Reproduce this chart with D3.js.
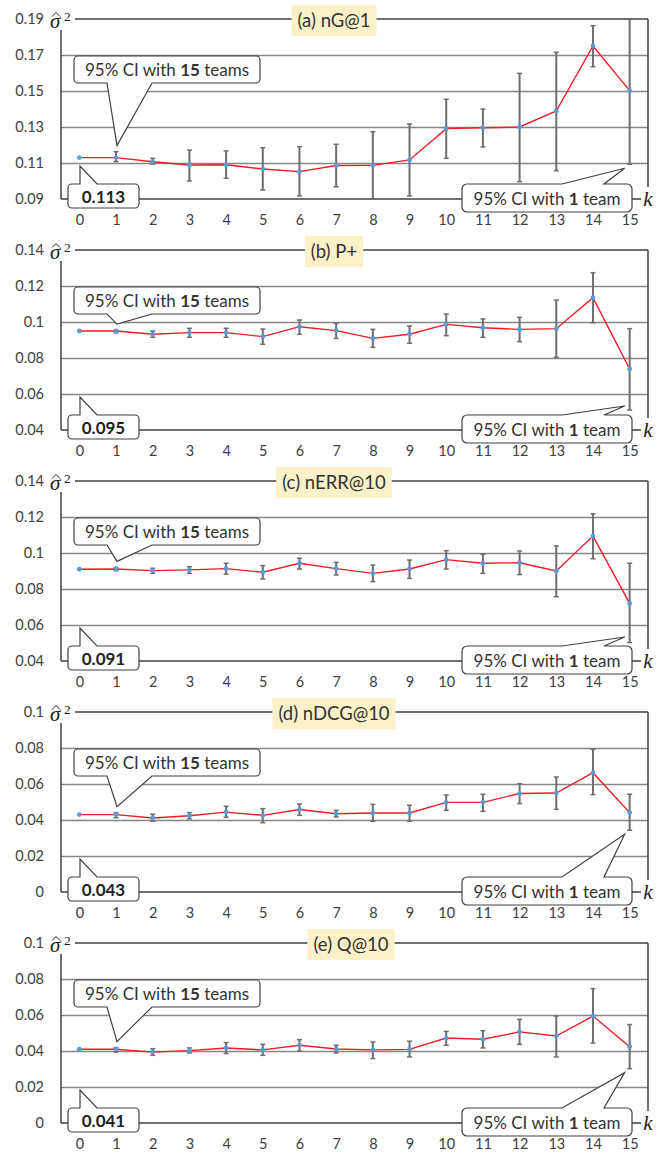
<!DOCTYPE html>
<html>
<head>
<meta charset="utf-8">
<script src="https://cdn.jsdelivr.net/npm/d3@7"></script>
<style>
  body { margin: 0; background: #fff; }
  svg { display: block; }
  .tick text { font-family: Lato, "Open Sans", sans-serif; fill: #404040; }
</style>
</head>
<body>
<div id="chart"></div>
<script>
// k = number of teams removed
const ks = [0, 1, 2, 3, 4, 5, 6, 7, 8, 9, 10, 11, 12, 13, 14, 15];

const panelTitles = ["(a) nG@1", "(b) P+", "(c) nERR@10", "(d) nDCG@10", "(e) Q@10"];

const yDomains = [[0.09, 0.19], [0.04, 0.14], [0.04, 0.14], [0, 0.1], [0, 0.1]];
const yTickValues = [
  [0.09, 0.11, 0.13, 0.15, 0.17, 0.19],
  [0.04, 0.06, 0.08, 0.1, 0.12, 0.14],
  [0.04, 0.06, 0.08, 0.1, 0.12, 0.14],
  [0, 0.02, 0.04, 0.06, 0.08, 0.1],
  [0, 0.02, 0.04, 0.06, 0.08, 0.1]
];
const yTickLabels = [
  ["0.09", "0.11", "0.13", "0.15", "0.17", "0.19"],
  ["0.04", "0.06", "0.08", "0.1", "0.12", "0.14"],
  ["0.04", "0.06", "0.08", "0.1", "0.12", "0.14"],
  ["0", "0.02", "0.04", "0.06", "0.08", "0.1"],
  ["0", "0.02", "0.04", "0.06", "0.08", "0.1"]
];

// variance estimates and 95% CI bounds
const nG1Mean = [0.113, 0.113, 0.1107, 0.1089, 0.109, 0.1067, 0.1052, 0.1086, 0.1087, 0.1117, 0.1291, 0.1296, 0.130, 0.1389, 0.175, 0.1502];
const nG1Lo = [null, 0.1108, 0.1094, 0.100, 0.1015, 0.095, 0.0917, 0.0968, 0.090, 0.0917, 0.1126, 0.1189, 0.0996, 0.1057, 0.1635, 0.1093];
const nG1Hi = [null, 0.1163, 0.1126, 0.1172, 0.1167, 0.1185, 0.1191, 0.1204, 0.1274, 0.1317, 0.1454, 0.140, 0.1598, 0.1715, 0.1863, 0.190];

const pPlusMean = [0.095, 0.095, 0.0932, 0.0941, 0.0941, 0.0919, 0.0974, 0.0952, 0.0909, 0.0932, 0.0987, 0.0968, 0.0959, 0.0963, 0.1135, 0.0739];
const pPlusLo = [null, 0.0940, 0.0915, 0.0915, 0.0915, 0.0876, 0.0932, 0.0909, 0.0859, 0.0882, 0.0924, 0.0915, 0.0891, 0.0804, 0.0996, 0.0511];
const pPlusHi = [null, 0.0955, 0.095, 0.0965, 0.0965, 0.0961, 0.1011, 0.0993, 0.0959, 0.0978, 0.1044, 0.1017, 0.1026, 0.1122, 0.1274, 0.0963];

const nErrMean = [0.091, 0.0911, 0.0902, 0.0906, 0.0913, 0.0893, 0.0943, 0.0913, 0.0887, 0.0911, 0.0963, 0.0943, 0.0946, 0.090, 0.1094, 0.072];
const nErrLo = [null, 0.0902, 0.0887, 0.0887, 0.0883, 0.0856, 0.0911, 0.0878, 0.0841, 0.0859, 0.0911, 0.0887, 0.088, 0.0757, 0.0968, 0.0502];
const nErrHi = [null, 0.0920, 0.0915, 0.0924, 0.0943, 0.093, 0.0971, 0.0948, 0.0933, 0.0961, 0.1013, 0.0993, 0.1011, 0.1039, 0.1218, 0.0943];

const nDcgMean = [0.043, 0.043, 0.0411, 0.0424, 0.0444, 0.0426, 0.0458, 0.0435, 0.0439, 0.0439, 0.0498, 0.0498, 0.0547, 0.055, 0.0663, 0.0441];
const nDcgLo = [null, 0.0413, 0.0393, 0.0406, 0.0415, 0.0385, 0.0426, 0.0417, 0.0393, 0.0393, 0.0454, 0.0448, 0.0491, 0.0459, 0.0541, 0.0343];
const nDcgHi = [null, 0.0441, 0.0432, 0.0441, 0.0476, 0.0463, 0.0489, 0.0454, 0.0487, 0.0482, 0.0539, 0.0543, 0.0602, 0.0639, 0.0793, 0.0543];

const q10Mean = [0.041, 0.041, 0.0394, 0.0402, 0.0417, 0.0406, 0.0432, 0.0411, 0.0406, 0.0409, 0.0472, 0.0465, 0.0506, 0.0483, 0.0594, 0.0424];
const q10Lo = [null, 0.0394, 0.0376, 0.0389, 0.0386, 0.0376, 0.04, 0.0389, 0.0358, 0.0367, 0.0432, 0.0417, 0.0437, 0.0367, 0.0444, 0.0302];
const q10Hi = [null, 0.0419, 0.0413, 0.0417, 0.0447, 0.0437, 0.0463, 0.0432, 0.045, 0.0454, 0.0509, 0.0513, 0.0576, 0.0594, 0.0747, 0.0547];

const means = [nG1Mean, pPlusMean, nErrMean, nDcgMean, q10Mean];
const lows = [nG1Lo, pPlusLo, nErrLo, nDcgLo, q10Lo];
const highs = [nG1Hi, pPlusHi, nErrHi, nDcgHi, q10Hi];

// layout
const titleCenters = [334, 334, 334, 334, 351];
const FONT = "Lato, 'Open Sans', sans-serif";
const SERIF = "'Liberation Serif', 'DejaVu Serif', serif";

// rounded box with a speech pointer on top or bottom edge
function calloutPath(x, y, w, h, r, p) {
  let s = `M${x + r},${y}`;
  if (p.side === "top") s += `L${p.a},${y}L${p.tx},${p.ty}L${p.b},${y}`;
  s += `L${x + w - r},${y}A${r},${r} 0 0 1 ${x + w},${y + r}`;
  s += `L${x + w},${y + h - r}A${r},${r} 0 0 1 ${x + w - r},${y + h}`;
  if (p.side === "bottom") s += `L${p.b},${y + h}L${p.tx},${p.ty}L${p.a},${y + h}`;
  s += `L${x + r},${y + h}A${r},${r} 0 0 1 ${x},${y + h - r}`;
  s += `L${x},${y + r}A${r},${r} 0 0 1 ${x + r},${y}Z`;
  return s;
}

class PanelVis {
  constructor(svg, index, top) {
    this.svg = svg;
    this.index = index;
    this.top = top;
    this.initVis();
  }

  initVis() {
    let vis = this;
    let i = vis.index;
    vis.left = 61;
    vis.right = 648;
    vis.height = 180;
    vis.bottom = vis.top + vis.height;

    vis.g = vis.svg.append("g").attr("class", "panel");

    vis.x = d3.scalePoint().domain(ks).range([vis.left, vis.right]).padding(0.5);
    vis.y = d3.scaleLinear().domain(yDomains[i]).range([vis.bottom, vis.top]);

    vis.data = ks.map((k, j) => ({ k: k, m: means[i][j], lo: lows[i][j], hi: highs[i][j] }));

    // gridlines + y labels
    let yAxis = d3.axisLeft(vis.y)
      .tickValues(yTickValues[i])
      .tickFormat((d, j) => yTickLabels[i][j])
      .tickSize(-(vis.right - vis.left))
      .tickPadding(17);
    let ya = vis.g.append("g")
      .attr("transform", `translate(${vis.left},0)`)
      .call(yAxis);
    ya.select(".domain").remove();
    ya.selectAll(".tick line").attr("stroke", "#868686").attr("stroke-width", 1.4);
    ya.selectAll(".tick text").attr("font-size", 14.5).attr("font-family", FONT);
    ya.selectAll(".tick").filter((d) => d === yDomains[i][0] || d === yDomains[i][1])
      .select("line").remove();

    // x labels
    let xAxis = d3.axisBottom(vis.x).tickSize(0).tickPadding(16);
    let xa = vis.g.append("g")
      .attr("transform", `translate(0,${vis.bottom})`)
      .call(xAxis);
    xa.select(".domain").remove();
    xa.selectAll(".tick text").attr("font-size", 14.5).attr("font-family", FONT);

    // frame
    let frame = vis.g.append("g").attr("stroke", "#404040").attr("stroke-width", 1.5);
    frame.append("line").attr("x1", 75).attr("x2", vis.right).attr("y1", vis.top).attr("y2", vis.top);
    frame.append("line").attr("x1", vis.left).attr("x2", 641).attr("y1", vis.bottom).attr("y2", vis.bottom);
    frame.append("line").attr("x1", vis.left).attr("x2", vis.left).attr("y1", vis.top + 11).attr("y2", vis.bottom);
    frame.append("line").attr("x1", vis.right).attr("x2", vis.right).attr("y1", vis.top).attr("y2", vis.bottom - 12);

    // error bars
    let bars = vis.g.append("g").selectAll("g.err")
      .data(vis.data.filter((d) => d.lo !== null))
      .enter().append("g").attr("class", "err")
      .attr("stroke", "#6e6e6e");
    bars.append("line")
      .attr("x1", (d) => vis.x(d.k)).attr("x2", (d) => vis.x(d.k))
      .attr("y1", (d) => vis.y(d.lo)).attr("y2", (d) => vis.y(d.hi))
      .attr("stroke-width", 2);
    bars.append("line")
      .attr("x1", (d) => vis.x(d.k) - 2.5).attr("x2", (d) => vis.x(d.k) + 2.5)
      .attr("y1", (d) => vis.y(d.lo)).attr("y2", (d) => vis.y(d.lo))
      .attr("stroke-width", 1.5);
    bars.append("line")
      .attr("x1", (d) => vis.x(d.k) - 2.5).attr("x2", (d) => vis.x(d.k) + 2.5)
      .attr("y1", (d) => vis.y(d.hi)).attr("y2", (d) => vis.y(d.hi))
      .attr("stroke-width", 1.5);

    // mean line
    let line = d3.line().x((d) => vis.x(d.k)).y((d) => vis.y(d.m));
    vis.g.append("path")
      .datum(vis.data)
      .attr("d", line)
      .attr("fill", "none")
      .attr("stroke", "#ee1c25")
      .attr("stroke-width", 1.4);

    vis.g.append("g").selectAll("circle")
      .data(vis.data)
      .enter().append("circle")
      .attr("cx", (d) => vis.x(d.k))
      .attr("cy", (d) => vis.y(d.m))
      .attr("r", 2.4)
      .attr("fill", "#5b9bd5");

    vis.drawCallouts();
    vis.drawLabels();
  }

  drawCallouts() {
    let vis = this;
    let i = vis.index;
    let co = vis.g.append("g").attr("class", "callouts");

    // 15 teams
    let tip1 = vis.y(lows[i][1] === null ? means[i][1] : highs[i][1]) - 6;
    co.append("path")
      .attr("d", calloutPath(74, vis.top + 37, 186, 27, 4,
        { side: "bottom", a: 107, b: 152, tx: 117, ty: tip1 }))
      .attr("fill", "#fff").attr("stroke", "#404040").attr("stroke-width", 1.2);
    let t1 = co.append("text")
      .attr("x", 167).attr("y", vis.top + 56.5)
      .attr("text-anchor", "middle")
      .attr("font-family", FONT).attr("font-size", 17).attr("fill", "#333");
    t1.append("tspan").text("95% CI with ");
    t1.append("tspan").attr("font-weight", "bold").text("15");
    t1.append("tspan").text(" teams");

    // 1 team
    let tip15 = Math.min(vis.y(lows[i][15]) + 4, vis.bottom - 24);
    co.append("path")
      .attr("d", calloutPath(462, vis.bottom - 15, 170, 28, 5,
        { side: "top", a: 562, b: 604, tx: vis.x(15) - 5, ty: tip15 }))
      .attr("fill", "#fff").attr("stroke", "#404040").attr("stroke-width", 1.2);
    let t2 = co.append("text")
      .attr("x", 547).attr("y", vis.bottom + 5.5)
      .attr("text-anchor", "middle")
      .attr("font-family", FONT).attr("font-size", 17).attr("fill", "#333");
    t2.append("tspan").text("95% CI with ");
    t2.append("tspan").attr("font-weight", "bold").text("1");
    t2.append("tspan").text(" team");

    // value at k = 0
    co.append("path")
      .attr("d", calloutPath(68, vis.bottom - 15, 71, 24, 4,
        { side: "top", a: 80, b: 97, tx: 80, ty: vis.bottom - 33 }))
      .attr("fill", "#fff").attr("stroke", "#404040").attr("stroke-width", 1.2);
    co.append("text")
      .attr("x", 103.5).attr("y", vis.bottom + 3.5)
      .attr("text-anchor", "middle")
      .attr("font-family", FONT).attr("font-size", 17).attr("font-weight", "bold")
      .attr("fill", "#222")
      .text(d3.format(".3f")(means[i][0]));
  }

  drawLabels() {
    let vis = this;
    let i = vis.index;

    // panel title
    let tg = vis.g.append("g");
    let rect = tg.append("rect").attr("fill", "#fcf1c9");
    let tt = tg.append("text")
      .attr("x", titleCenters[i]).attr("y", vis.top + 7.5)
      .attr("text-anchor", "middle")
      .attr("font-family", FONT).attr("font-size", 18.5).attr("fill", "#333")
      .text(panelTitles[i]);
    let tw = tt.node().getComputedTextLength();
    rect.attr("x", titleCenters[i] - tw / 2 - 6).attr("width", tw + 12)
      .attr("y", vis.top - 14).attr("height", 31);

    // sigma hat squared
    vis.g.append("text")
      .attr("x", 50).attr("y", vis.top + 9)
      .attr("font-family", SERIF).attr("font-style", "italic")
      .attr("font-size", 21).attr("fill", "#222")
      .text("\u03c3");
    vis.g.append("path")
      .attr("d", `M52,${vis.top - 2.5}L56,${vis.top - 6.5}L60,${vis.top - 2.5}`)
      .attr("fill", "none").attr("stroke", "#222").attr("stroke-width", 1);
    vis.g.append("text")
      .attr("x", 64).attr("y", vis.top + 2)
      .attr("font-family", SERIF).attr("font-size", 13.5).attr("fill", "#222")
      .text("2");

    // k
    vis.g.append("text")
      .attr("x", vis.right).attr("y", vis.bottom + 7)
      .attr("text-anchor", "middle")
      .attr("font-family", SERIF)
      .attr("font-style", "italic").attr("font-size", 21).attr("fill", "#222")
      .text("k");
  }
}

const svg = d3.select("#chart").append("svg")
  .attr("width", 666).attr("height", 1153);

panelTitles.forEach((t, i) => new PanelVis(svg, i, 19 + i * 231));
</script>
</body>
</html>
